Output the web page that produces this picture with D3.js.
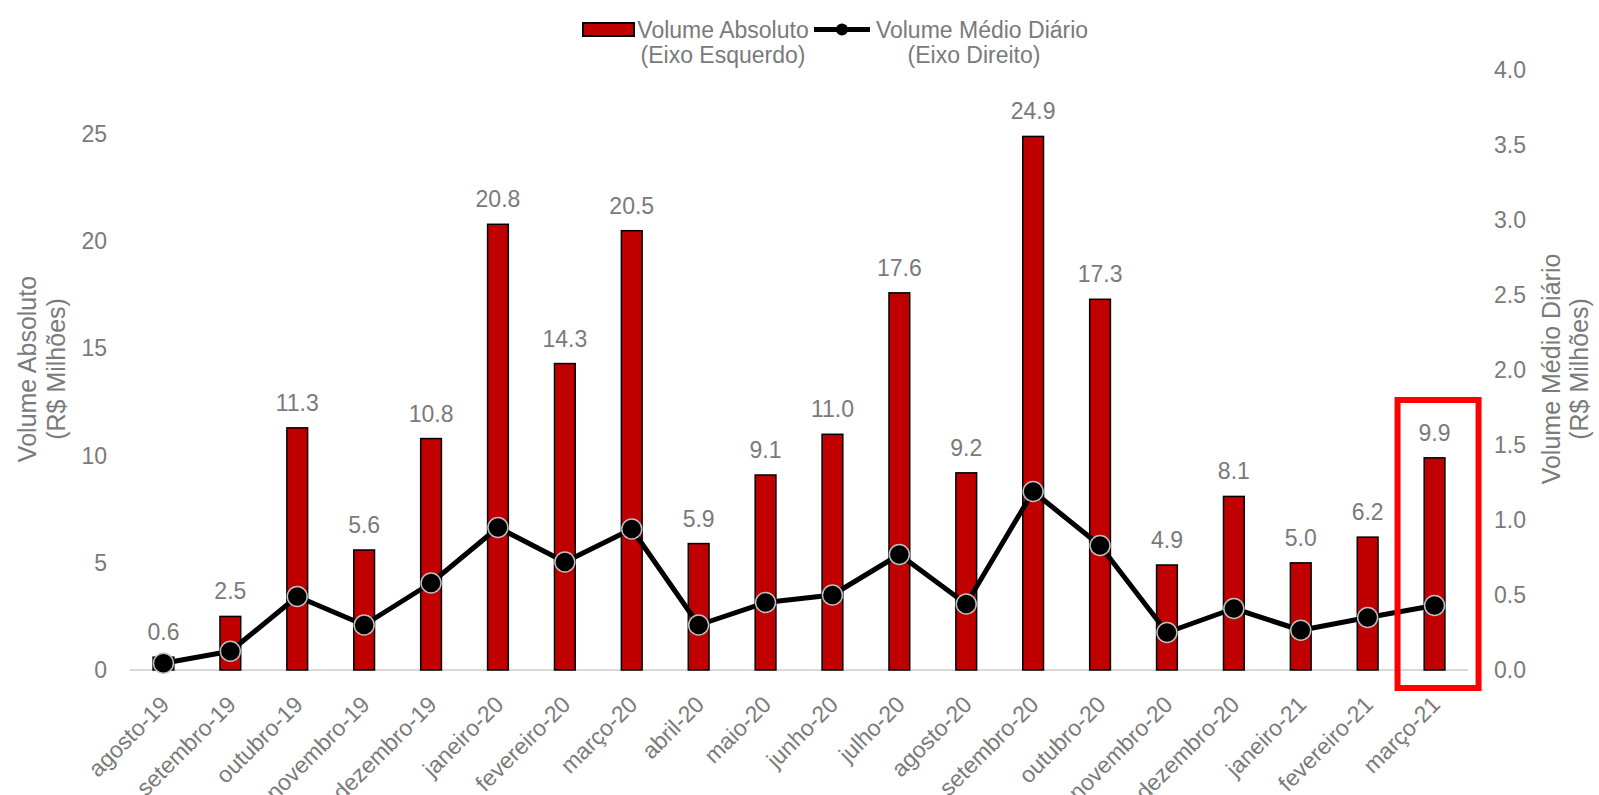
<!DOCTYPE html>
<html>
  <head>
    <meta charset="utf-8">
    <title>Volume Absoluto e Volume Médio Diário</title>
    <script src="https://d3js.org/d3.v7.min.js" charset="utf-8"></script>
    <style>
      body { margin: 0; background: #fff; }
      text { font-family: "Liberation Sans", Arial, sans-serif; fill: #7a7a7a; }
      .axis path, .axis line { display: none; }
    </style>
  </head>
  <body>
    <script>
      // data
      var months = ["agosto-19", "setembro-19", "outubro-19", "novembro-19", "dezembro-19",
        "janeiro-20", "fevereiro-20", "março-20", "abril-20", "maio-20", "junho-20",
        "julho-20", "agosto-20", "setembro-20", "outubro-20", "novembro-20",
        "dezembro-20", "janeiro-21", "fevereiro-21", "março-21"];
      var volumeAbsoluto = [0.6, 2.5, 11.3, 5.6, 10.8, 20.8, 14.3, 20.5, 5.9, 9.1, 11.0,
        17.6, 9.2, 24.9, 17.3, 4.9, 8.1, 5.0, 6.2, 9.9];
      var volumeMedio = [0.045, 0.125, 0.49, 0.30, 0.58, 0.95, 0.72, 0.94, 0.30, 0.45, 0.50,
        0.77, 0.44, 1.19, 0.83, 0.25, 0.41, 0.265, 0.35, 0.43];
      var leftTicks = [0, 5, 10, 15, 20, 25];
      var rightTicks = [0, 0.5, 1, 1.5, 2, 2.5, 3, 3.5, 4];

      var width = 1599;
      var height = 795;
      var fontSize = 23;
      var titleSize = 25;

      var svg = d3.select("body")
        .append("svg")
        .attr("width", width)
        .attr("height", height);

      var x = d3.scaleBand()
        .domain(months)
        .range([130, 1468]);

      var yL = d3.scaleLinear().domain([0, 28]).range([670, 70]);
      var yR = d3.scaleLinear().domain([0, 4]).range([670, 70]);

      var barW = x.bandwidth() * 0.31;
      var cx = function(d) { return x(d) + x.bandwidth() / 2; };

      // baseline
      svg.append("line")
        .attr("x1", x.range()[0]).attr("x2", x.range()[1])
        .attr("y1", yL(0)).attr("y2", yL(0))
        .attr("stroke", "#d9d9d9")
        .attr("stroke-width", 2);

      // axes (labels only)
      var gL = svg.append("g")
        .attr("class", "axis")
        .attr("transform", "translate(130,0)")
        .call(d3.axisLeft(yL).tickValues(leftTicks).tickSize(0).tickPadding(23));
      gL.selectAll("text").style("font-size", fontSize + "px").attr("fill", "#7a7a7a");

      var gR = svg.append("g")
        .attr("class", "axis")
        .attr("transform", "translate(1468,0)")
        .call(d3.axisRight(yR).tickValues(rightTicks).tickFormat(d3.format(".1f")).tickSize(0).tickPadding(26));
      gR.selectAll("text").style("font-size", fontSize + "px").attr("fill", "#7a7a7a");

      var gB = svg.append("g")
        .attr("class", "axis")
        .attr("transform", "translate(0," + yL(0) + ")")
        .call(d3.axisBottom(x).tickSize(0).tickPadding(0));
      gB.selectAll("text")
        .style("font-size", fontSize + "px")
        .attr("fill", "#7a7a7a")
        .attr("text-anchor", "end")
        .attr("dy", 0)
        .attr("y", 0)
        .attr("transform", "translate(7,36) rotate(-45)");

      // axis titles
      var titleL = svg.append("text")
        .attr("transform", "translate(0,369) rotate(-90)")
        .attr("text-anchor", "middle")
        .style("font-size", titleSize + "px");
      titleL.append("tspan").attr("x", 0).attr("y", 36).text("Volume Absoluto");
      titleL.append("tspan").attr("x", 0).attr("y", 65).text("(R$ Milhões)");

      var titleR = svg.append("text")
        .attr("transform", "translate(0,369) rotate(-90)")
        .attr("text-anchor", "middle")
        .style("font-size", titleSize + "px");
      titleR.append("tspan").attr("x", 0).attr("y", 1560).text("Volume Médio Diário");
      titleR.append("tspan").attr("x", 0).attr("y", 1588).text("(R$ Milhões)");

      // bars
      svg.append("g").selectAll("rect")
        .data(months)
        .enter()
        .append("rect")
        .attr("x", function(d) { return cx(d) - barW / 2; })
        .attr("y", function(d, i) { return yL(volumeAbsoluto[i]); })
        .attr("width", barW)
        .attr("height", function(d, i) { return yL(0) - yL(volumeAbsoluto[i]); })
        .attr("fill", "#c00000")
        .attr("stroke", "#000")
        .attr("stroke-width", 1.5);

      // bar labels
      svg.append("g").selectAll("text")
        .data(months)
        .enter()
        .append("text")
        .attr("x", cx)
        .attr("y", function(d, i) { return yL(volumeAbsoluto[i]) - 17; })
        .attr("text-anchor", "middle")
        .style("font-size", fontSize + "px")
        .text(function(d, i) { return d3.format(".1f")(volumeAbsoluto[i]); });

      // line
      var line = d3.line()
        .x(function(d) { return cx(d); })
        .y(function(d, i) { return yR(volumeMedio[i]); });

      svg.append("path")
        .datum(months)
        .attr("d", line)
        .attr("fill", "none")
        .attr("stroke", "#000")
        .attr("stroke-width", 5)
        .attr("stroke-linejoin", "round");

      svg.append("g").selectAll("circle")
        .data(months)
        .enter()
        .append("circle")
        .attr("cx", cx)
        .attr("cy", function(d, i) { return yR(volumeMedio[i]); })
        .attr("r", 10)
        .attr("fill", "#000")
        .attr("stroke", "#bfbfbf")
        .attr("stroke-width", 1.5);

      // highlight box on the last month
      var last = months[months.length - 1];
      svg.append("rect")
        .attr("x", cx(last) - 37)
        .attr("y", yR(1.8))
        .attr("width", 81)
        .attr("height", yL(0) + 18 - yR(1.8))
        .attr("fill", "none")
        .attr("stroke", "#ff0000")
        .attr("stroke-width", 6);

      // legend
      var lg = svg.append("g");
      lg.append("rect")
        .attr("x", 583).attr("y", 23)
        .attr("width", 51).attr("height", 13)
        .attr("fill", "#c00000")
        .attr("stroke", "#000")
        .attr("stroke-width", 2);
      lg.append("text").attr("x", 723).attr("y", 38).attr("text-anchor", "middle")
        .style("font-size", fontSize + "px").text("Volume Absoluto");
      lg.append("text").attr("x", 723).attr("y", 63).attr("text-anchor", "middle")
        .style("font-size", fontSize + "px").text("(Eixo Esquerdo)");

      lg.append("line")
        .attr("x1", 814).attr("x2", 870)
        .attr("y1", 29.5).attr("y2", 29.5)
        .attr("stroke", "#000")
        .attr("stroke-width", 5);
      lg.append("circle")
        .attr("cx", 842).attr("cy", 29.5).attr("r", 6)
        .attr("fill", "#000");
      lg.append("text").attr("x", 982).attr("y", 38).attr("text-anchor", "middle")
        .style("font-size", fontSize + "px").text("Volume Médio Diário");
      lg.append("text").attr("x", 974).attr("y", 63).attr("text-anchor", "middle")
        .style("font-size", fontSize + "px").text("(Eixo Direito)");
    </script>
  </body>
</html>
